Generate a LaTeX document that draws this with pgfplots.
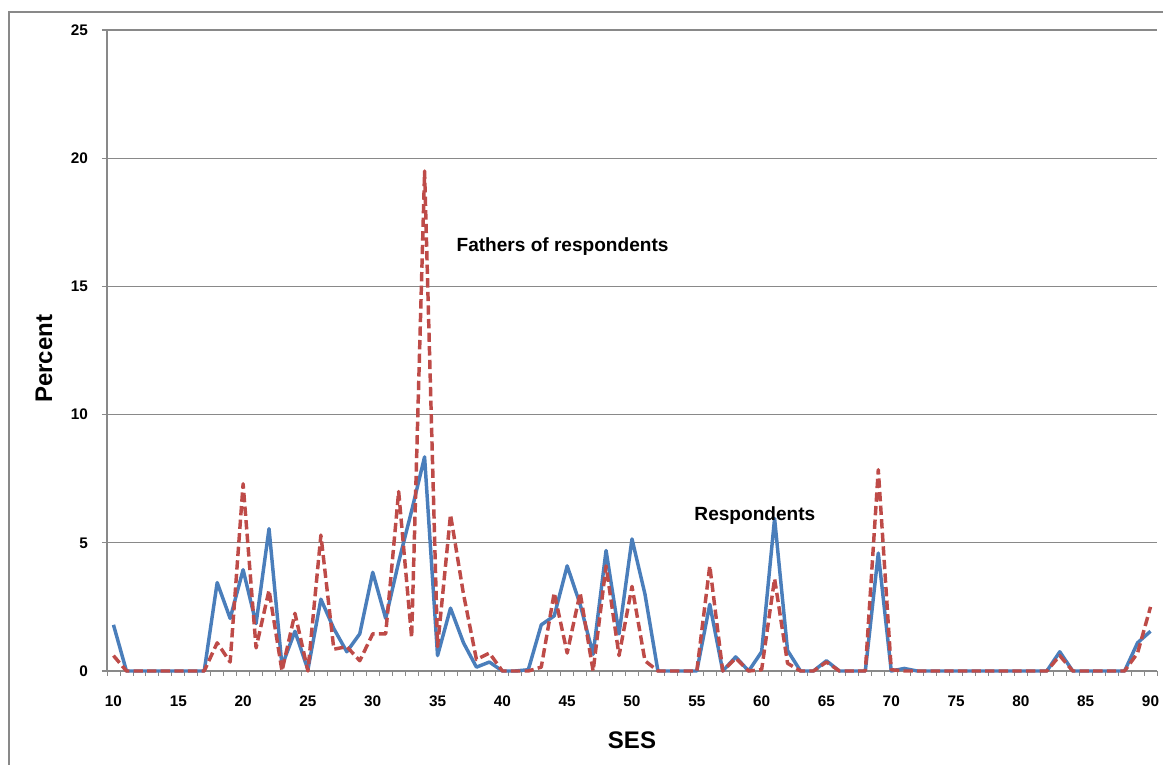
\documentclass[border=0pt]{standalone}
\usepackage{pgfplots}
\usepackage{pgfplotstable}
\pgfplotsset{compat=1.18}
\usepackage{fontspec}
\setmainfont{Liberation Sans}

\definecolor{respblue}{HTML}{4A7EBB}
\definecolor{fathred}{HTML}{BE4B48}
\definecolor{gridgray}{HTML}{898989}

\pgfplotstableread{
ses resp fath
10 1.80 0.60
11 0 0
12 0 0
13 0 0
14 0 0
15 0 0
16 0 0
17 0 0
18 3.45 1.10
19 2.05 0.35
20 3.95 7.30
21 1.85 0.90
22 5.55 3.15
23 0.20 0
24 1.55 2.25
25 0.05 0
26 2.80 5.30
27 1.65 0.85
28 0.75 0.95
29 1.45 0.40
30 3.85 1.45
31 2.05 1.45
32 4.25 7.00
33 6.25 1.30
34 8.35 19.50
35 0.60 0.95
36 2.45 6.10
37 1.10 3.00
38 0.15 0.45
39 0.35 0.70
40 0 0
41 0 0
42 0.05 0
43 1.80 0.15
44 2.15 3.05
45 4.10 0.70
46 2.60 3.05
47 0.65 0
48 4.70 4.10
49 1.45 0.60
50 5.15 3.30
51 3.00 0.40
52 0 0
53 0 0
54 0 0
55 0 0
56 2.60 4.10
57 0 0
58 0.55 0.50
59 0 0
60 0.75 0.05
61 5.95 3.60
62 0.80 0.30
63 0 0
64 0 0
65 0.40 0.35
66 0 0
67 0 0
68 0 0
69 4.60 7.85
70 0 0.05
71 0.10 0
72 0 0
73 0 0
74 0 0
75 0 0
76 0 0
77 0 0
78 0 0
79 0 0
80 0 0
81 0 0
82 0 0
83 0.75 0.60
84 0 0
85 0 0
86 0 0
87 0 0
88 0 0
89 1.10 0.70
90 1.55 2.50
}\sesdata

\begin{document}
\begin{tikzpicture}
\useasboundingbox (-80.25pt,-69.75pt) rectangle (792pt,503.25pt);
% chart area frame, only left and top edges fall inside the picture
\draw[gridgray, line width=0.8pt] (-73.5pt,-80pt) -- (-73.5pt,494.25pt) -- (800pt,494.25pt);
\begin{axis}[
    at={(0,0)}, anchor=south west,
    scale only axis,
    width=787.5pt, height=480.75pt,
    xmin=9.5, xmax=90.5,
    ymin=0, ymax=25,
    xtick={10,15,...,90},
    minor xtick={9.5,10.5,...,90.5},
    ytick={0,5,...,25},
    axis x line*=bottom,
    axis y line*=left,
    axis line style={gridgray, line width=0.8pt, -},
    tick align=outside,
    major x tick style={draw=none},
    minor x tick style={gridgray, line width=0.6pt},
    minor tick length=3.5pt,
    major tick length=3.75pt,
    ytick style={gridgray, line width=0.8pt},
    ymajorgrids,
    grid style={gridgray, line width=0.8pt},
    /pgf/number format/assume math mode=true,
    ticklabel style={font=\bfseries\fontsize{11.5}{11.5}\selectfont},
    xticklabel style={text height=8.5pt, text depth=0pt, yshift=-11pt},
    yticklabel style={xshift=-7pt},
    clip=false,
]
\addplot[respblue, line width=2.6pt, line join=round] table[x=ses, y=resp] {\sesdata};
\addplot[fathred, line width=2.6pt, dash pattern=on 7pt off 3.2pt, line join=round] table[x=ses, y=fath] {\sesdata};

\node[anchor=west, inner sep=0, font=\bfseries\fontsize{14.3}{14.3}\selectfont] at (axis cs:36.45,16.55) {Fathers of respondents};
\node[anchor=west, inner sep=0, font=\bfseries\fontsize{14.3}{14.3}\selectfont] at (axis cs:54.8,6.05) {Respondents};

\node[font=\bfseries\fontsize{18}{18}\selectfont] at ([yshift=-51.75pt]rel axis cs:0.5,0) {SES};
\node[rotate=90, font=\bfseries\fontsize{18}{18}\selectfont] at ([xshift=-47.25pt]rel axis cs:0,0.487) {Percent};
\end{axis}
\end{tikzpicture}
\end{document}
